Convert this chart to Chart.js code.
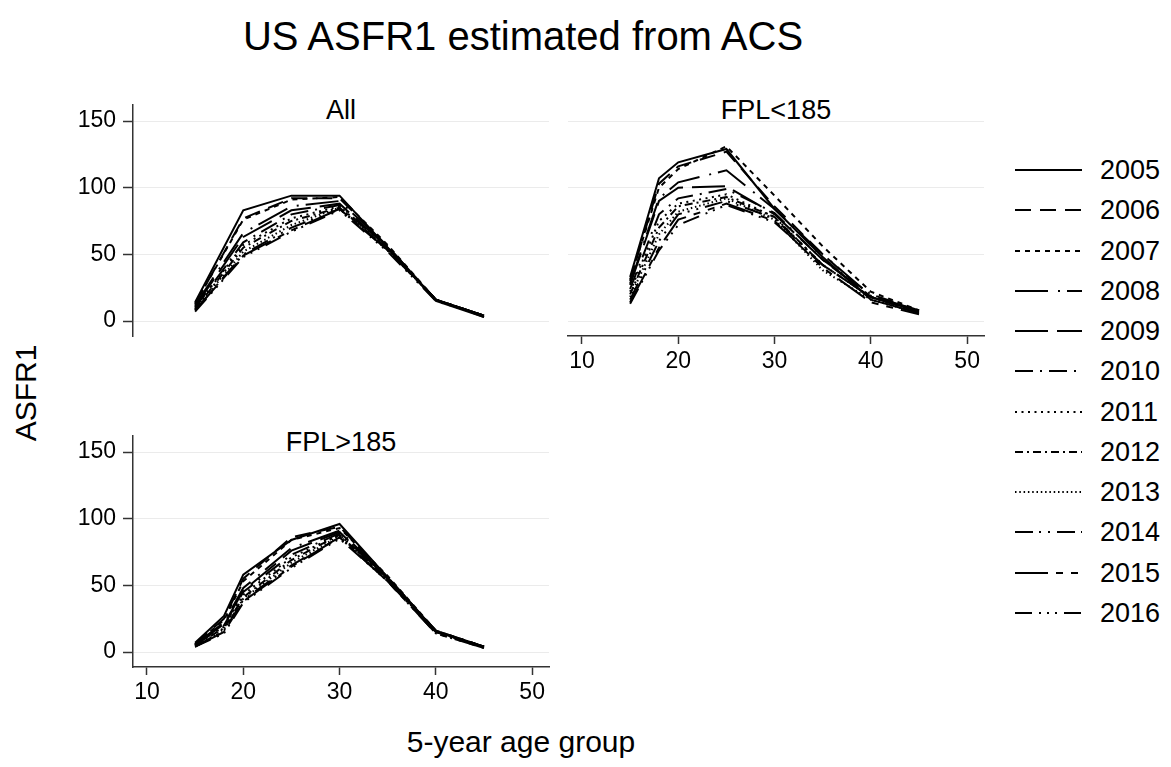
<!DOCTYPE html>
<html><head><meta charset="utf-8">
<script src="https://cdn.jsdelivr.net/npm/chart.js@4.4.1/dist/chart.umd.min.js"></script>
<style>
html,body{margin:0;padding:0;background:#fff;}
body{width:1171px;height:767px;position:relative;overflow:hidden;font-family:"Liberation Sans",Arial,Helvetica,sans-serif;color:#000;}
canvas{position:absolute;}
.t{position:absolute;white-space:nowrap;line-height:1;transform:translate(-50%,-50%);}
.lt{position:absolute;white-space:nowrap;line-height:1;transform:translateY(-50%);font-size:27px;left:1100px;}
.ls{position:absolute;left:1015px;}
</style></head><body>
<div class="t" style="left:523px;top:36px;font-size:40px;">US ASFR1 estimated from ACS</div>
<div class="t" style="left:341px;top:110px;font-size:27px;">All</div>
<div class="t" style="left:776px;top:110px;font-size:27px;">FPL&lt;185</div>
<div class="t" style="left:341px;top:442px;font-size:27px;">FPL&gt;185</div>
<div class="t" style="left:26px;top:393px;font-size:30px;transform:translate(-50%,-50%) rotate(-90deg);">ASFR1</div>
<div class="t" style="left:521px;top:742px;font-size:30px;">5-year age group</div>
<canvas id="cAll" width="579" height="291" style="left:0px;top:75px"></canvas>
<canvas id="cLow" width="476" height="336" style="left:538px;top:75px"></canvas>
<canvas id="cHigh" width="579" height="336" style="left:0px;top:406px"></canvas>
<div id="legend"></div>
<script>
// ---- data ----
const years = ['2005','2006','2007','2008','2009','2010','2011','2012','2013','2014','2015','2016'];
const agesAll = [15, 20, 25, 30, 35, 40, 45];
const agesFPL = [15, 18, 20, 25, 30, 35, 40, 45];
const xTicks = [10, 20, 30, 40, 50];
const yTicks = [0, 50, 100, 150];

// All: rows = years, columns = agesAll
const asfrAll = [
  [14, 83, 94, 94, 55, 15, 3],
  [13, 77, 92, 92, 56, 16, 3],
  [13, 76, 91, 93, 57, 16, 4],
  [12, 66, 86, 90, 56, 16, 4],
  [11, 63, 83, 88, 55, 16, 4],
  [10, 59, 80, 87, 54, 16, 4],
  [10, 57, 77, 86, 54, 16, 4],
  [9, 55, 75, 85, 54, 16, 4],
  [9, 52, 72, 85, 53, 16, 4],
  [8, 50, 70, 84, 53, 16, 4],
  [8, 49, 68, 84, 53, 16, 4],
  [7, 48, 67, 83, 52, 15, 4]
];
// FPL<185: rows = years, columns = agesFPL
const asfrFPLlow = [
  [33, 107, 119, 129, 84, 48, 16, 6],
  [30, 103, 116, 127, 86, 50, 18, 7],
  [31, 100, 114, 131, 94, 56, 22, 8],
  [28, 92, 104, 113, 84, 50, 19, 8],
  [27, 90, 100, 101, 80, 46, 18, 7],
  [24, 80, 92, 99, 81, 46, 20, 8],
  [22, 75, 88, 95, 78, 42, 18, 7],
  [20, 70, 86, 93, 78, 42, 18, 7],
  [18, 65, 82, 92, 76, 38, 16, 6],
  [16, 60, 80, 90, 77, 42, 18, 7],
  [14, 55, 76, 88, 75, 40, 14, 5],
  [13, 53, 72, 87, 74, 42, 18, 8]
];
// FPL>185: rows = years, columns = agesFPL
const asfrFPLhigh = [
  [7, 27, 58, 84, 96, 56, 15, 4],
  [6, 25, 55, 86, 94, 56, 16, 4],
  [6, 24, 53, 84, 93, 57, 16, 4],
  [6, 22, 48, 78, 91, 56, 16, 4],
  [5, 21, 46, 76, 90, 55, 16, 4],
  [5, 20, 45, 73, 89, 55, 15, 4],
  [5, 19, 43, 71, 88, 54, 15, 4],
  [5, 18, 41, 69, 88, 54, 15, 4],
  [4, 17, 40, 67, 87, 54, 15, 4],
  [4, 16, 39, 65, 86, 53, 15, 4],
  [4, 15, 38, 64, 86, 53, 14, 3],
  [4, 14, 37, 63, 85, 53, 14, 3]
];

// ---- styles ----
const dashStyles = [
  [], [16, 9], [5, 5], [33, 10, 2, 7], [33, 9], [18, 7, 2, 7],
  [2, 4.5], [8, 4, 2, 4], [1.5, 2.8], [18, 6, 2, 7, 2, 7],
  [33, 8, 7, 8, 7, 8], [17, 7, 2, 6, 2, 6, 2, 7]
];
const P = 30;
const FONT = {family: '"Liberation Sans", Arial, Helvetica, sans-serif', size: 23};

function makeChart(id, ages, vals, showX, showY) {
  const datasets = years.map((yr, i) => ({
    label: yr,
    data: ages.map((a, j) => ({x: a, y: vals[i][j]})),
    borderColor: '#000',
    borderWidth: 2,
    borderDash: dashStyles[i],
    borderCapStyle: 'butt',
    borderJoinStyle: 'miter',
    pointRadius: 0,
    fill: false,
    tension: 0
  }));
  return new Chart(document.getElementById(id), {
    type: 'line',
    data: {datasets},
    options: {
      responsive: false,
      animation: false,
      devicePixelRatio: 1,
      layout: {padding: {left: showY ? 0 : P, right: P, top: P, bottom: P}},
      plugins: {legend: {display: false}, tooltip: {enabled: false}},
      scales: {
        x: {
          type: 'linear', min: 8.55, max: 51.75, display: showX,
          afterBuildTicks: s => { s.ticks = xTicks.map(v => ({value: v})); },
          afterFit: s => { s.height = showX ? 45 : 0; },
          grid: {drawOnChartArea: false, tickColor: '#333', tickLength: 8, tickWidth: 1.5},
          border: {display: true, color: '#333', width: 1.5},
          ticks: {font: FONT, color: '#000', padding: 4, maxRotation: 0, autoSkip: false}
        },
        y: {
          type: 'linear', min: -11.25, max: 162,
          afterBuildTicks: s => { s.ticks = yTicks.map(v => ({value: v})); },
          afterFit: s => { s.width = showY ? 133 : 0; },
          grid: {color: '#ebebeb', lineWidth: 1, tickColor: '#333', tickLength: 10, tickWidth: 1.5, drawTicks: showY},
          border: {display: showY, color: '#333', width: 1.5},
          ticks: {display: showY, font: FONT, color: '#000', padding: 7}
        }
      }
    }
  });
}

makeChart('cAll', agesAll, asfrAll, false, true);
makeChart('cLow', agesFPL, asfrFPLlow, true, false);
makeChart('cHigh', agesFPL, asfrFPLhigh, true, true);

// ---- legend ----
const legend = document.getElementById('legend');
years.forEach((yr, i) => {
  const y = 170 + i * 40.25;
  const dash = dashStyles[i].length ? dashStyles[i].join(' ') : 'none';
  const svgNS = 'http://www.w3.org/2000/svg';
  const svg = document.createElementNS(svgNS, 'svg');
  svg.setAttribute('width', '67');
  svg.setAttribute('height', '6');
  svg.setAttribute('class', 'ls');
  svg.style.top = (y - 3) + 'px';
  const ln = document.createElementNS(svgNS, 'line');
  ln.setAttribute('x1', '0'); ln.setAttribute('y1', '3');
  ln.setAttribute('x2', '67'); ln.setAttribute('y2', '3');
  ln.setAttribute('stroke', '#000'); ln.setAttribute('stroke-width', '2');
  ln.setAttribute('stroke-dasharray', dash);
  svg.appendChild(ln);
  legend.appendChild(svg);
  const t = document.createElement('div');
  t.className = 'lt';
  t.style.top = y + 'px';
  t.textContent = yr;
  legend.appendChild(t);
});
</script>
</body></html>
